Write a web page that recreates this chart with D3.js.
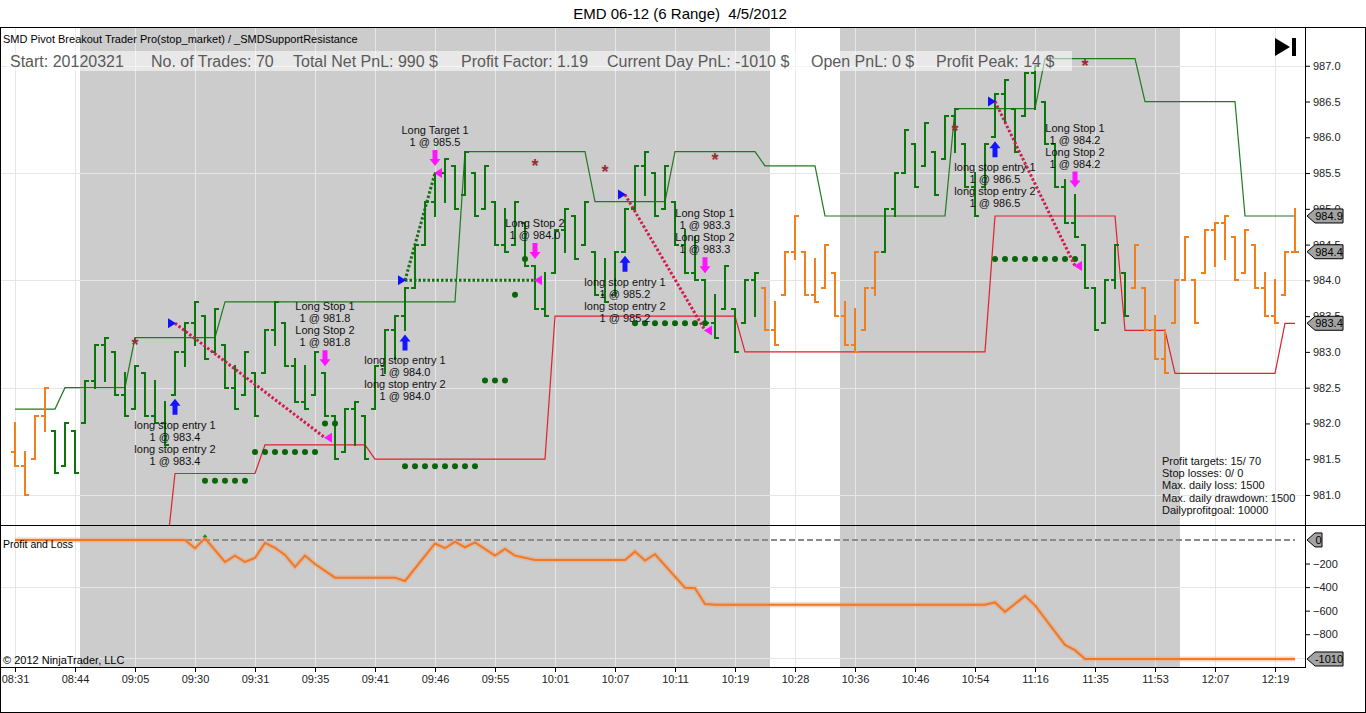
<!DOCTYPE html>
<html>
<head>
<meta charset="utf-8">
<script src="https://cdn.jsdelivr.net/npm/d3@7"></script>
<style>
  body { margin: 0; background: #fff; font-family: "Liberation Sans", Arial, sans-serif; }
  svg text { font-family: "Liberation Sans", Arial, sans-serif; }
</style>
</head>
<body>
<div id="wrapper"></div>
<script>
// ---- data ----
const times = ["08:31","08:44","09:05","09:30","09:31","09:35","09:41","09:46","09:55","10:01","10:07",
  "10:11","10:19","10:28","10:36","10:46","10:54","11:16","11:35","11:53","12:07","12:19"];

const highs = [982.0,981.6,982.1,982.5,981.9,982.0,981.9,982.6,983.1,983.2,
  983.0,982.7,982.8,982.7,982.6,982.3,983.0,983.4,983.7,983.5,
  983.6,983.1,982.8,983.0,982.7,983.3,983.7,983.4,982.9,982.8,
  983.0,982.7,982.1,982.2,982.3,982.1,982.8,983.3,983.5,983.9,
  984.5,985.1,985.5,985.7,985.6,985.8,985.5,985.6,985.1,985.0,
  985.1,984.8,984.2,984.1,984.7,985.0,984.9,985.1,984.4,984.3,
  984.4,985.0,985.6,985.8,985.5,985.6,985.1,984.7,984.6,984.0,
  983.8,984.2,983.6,984.0,984.1,983.9,983.7,984.4,984.9,984.4,
  984.3,984.5,984.1,983.7,983.6,983.9,984.4,985.0,985.5,986.1,
  985.9,986.2,985.8,986.3,986.4,985.9,985.5,985.9,986.6,986.8,
  986.4,986.9,987.0,986.5,985.9,985.4,985.2,984.5,983.9,984.0,
  984.5,984.1,984.5,983.9,983.5,983.3,984.0,984.6,984.0,984.7,
  984.8,984.9,984.6,984.7,984.5,984.1,984.0,984.4,985.0];

const lows = [981.4,981.0,981.5,981.9,981.3,981.4,981.3,982.0,982.5,982.6,
  982.4,982.1,982.2,982.1,982.0,981.7,982.4,982.8,983.1,982.9,
  983.0,982.5,982.2,982.4,982.1,982.7,983.1,982.8,982.3,982.2,
  982.4,982.1,981.5,981.6,981.7,981.5,982.2,982.7,982.9,983.3,
  983.9,984.5,984.9,985.1,985.0,985.2,984.9,985.0,984.5,984.4,
  984.5,984.2,983.6,983.5,984.1,984.4,984.3,984.5,983.8,983.7,
  983.8,984.4,985.0,985.2,984.9,985.0,984.5,984.1,984.0,983.4,
  983.2,983.6,983.0,983.4,983.5,983.3,983.1,983.8,984.3,983.8,
  983.7,983.9,983.5,983.1,983.0,983.3,983.8,984.4,984.9,985.5,
  985.3,985.6,985.2,985.7,985.8,985.3,984.9,985.3,986.0,986.2,
  985.8,986.3,986.4,985.9,985.3,984.8,984.6,983.9,983.3,983.4,
  983.9,983.5,983.9,983.3,982.9,982.7,983.4,984.0,983.4,984.1,
  984.2,984.3,984.0,984.1,983.9,983.5,983.4,983.8,984.4];

const opens = [981.6,981.4,981.5,982.1,981.9,981.4,981.9,982.0,982.6,983.1,
  983.0,982.4,982.2,982.7,982.1,982.0,982.4,983.0,983.4,983.5,
  983.0,983.1,982.5,982.4,982.7,982.7,983.3,983.4,982.8,982.3,
  982.4,982.7,982.1,981.6,982.2,982.1,982.2,982.8,983.3,983.5,
  983.9,984.5,985.1,985.5,985.6,985.2,985.5,985.0,985.1,984.5,
  984.5,984.8,984.2,983.6,984.1,984.7,984.9,984.5,984.4,983.8,
  983.8,984.4,985.0,985.6,985.5,985.0,985.1,984.5,984.1,984.0,
  983.4,983.6,983.6,983.4,984.0,983.9,983.3,983.8,984.4,984.4,
  983.8,983.9,984.1,983.5,983.1,983.3,983.9,984.4,985.0,985.5,
  985.9,985.6,985.8,985.7,986.3,985.9,985.3,985.3,986.0,986.6,
  986.4,986.3,986.9,986.5,985.9,985.3,984.8,984.5,983.9,983.4,
  984.0,984.1,983.9,983.9,983.3,982.9,983.4,984.0,984.0,984.1,
  984.7,984.8,984.6,984.1,984.5,983.9,983.5,983.8,984.4];

const closes = [981.4,981.0,982.1,982.5,981.3,982.0,981.3,982.6,983.1,983.2,
  982.4,982.1,982.8,982.1,982.0,981.7,983.0,983.4,983.7,982.9,
  983.6,982.5,982.2,983.0,982.1,983.3,983.7,982.8,982.3,982.2,
  983.0,982.1,981.5,982.2,982.3,981.5,982.8,983.3,983.5,983.9,
  984.5,985.1,985.5,985.7,985.0,985.8,984.9,985.6,984.5,984.4,
  985.1,984.2,983.6,983.5,984.7,985.0,984.3,985.1,983.8,983.7,
  984.4,985.0,985.6,985.8,984.9,985.6,984.5,984.1,984.0,983.4,
  983.2,984.2,983.0,984.0,984.1,983.3,983.1,984.4,984.9,983.8,
  983.7,984.5,983.5,983.1,983.0,983.9,984.4,985.0,985.5,986.1,
  985.3,986.2,985.2,986.3,986.4,985.3,984.9,985.9,986.6,986.8,
  985.8,986.9,987.0,985.9,985.3,984.8,984.6,983.9,983.3,984.0,
  984.5,983.5,984.5,983.3,982.9,982.7,984.0,984.6,983.4,984.7,
  984.8,984.9,984.0,984.7,983.9,983.5,983.4,984.4,984.4];

// bars drawn in the strategy colour (index ranges, inclusive)
const activeFrom = [4, 87];
const activeTo = [74, 111];

// shaded session blocks (in bar-index units)
const shadeFrom = [6.5, 82.5];
const shadeTo = [75.5, 116.5];

// resistance (green) and support (red) step levels: first bar index of each level
const resStart = [0, 5, 12, 21, 45, 58, 66, 75, 81, 94, 103, 113, 123];
const resLevel = [982.2, 982.5, 983.2, 983.7, 985.8, 985.1, 985.8, 985.6, 984.9, 986.4, 987.1, 986.5, 984.9];
const supStart = [15, 16, 25, 36, 54, 73, 98, 111, 116, 127];
const supLevel = [980.0, 981.3, 981.7, 981.5, 983.5, 983.0, 984.9, 983.3, 982.7, 983.4];

// stop dots
const dotIdx = [19,20,21,22,23, 24,25,26,27,28,29,30, 31,32, 39,40,41,42,43,44,45,46, 47,48,49, 50, 51,
  62,63,64,65,66,67,68,69, 98,99,100,101,102,103,104,105,106];
const dotPrice = [981.2,981.2,981.2,981.2,981.2, 981.6,981.6,981.6,981.6,981.6,981.6,981.6, 982.0,982.0,
  981.4,981.4,981.4,981.4,981.4,981.4,981.4,981.4, 982.6,982.6,982.6, 983.8, 984.3,
  983.4,983.4,983.4,983.4,983.4,983.4,983.4,983.4, 984.3,984.3,984.3,984.3,984.3,984.3,984.3,984.3,984.3];

// pivot asterisks
const starIdx = [12, 52, 59, 70, 94, 107];
const starPrice = [983.14, 985.64, 985.55, 985.73, 986.13, 987.04];

// trades
const entryIdx = [16, 39, 61, 98];
const entryPrice = [983.4, 984.0, 985.2, 986.5];
const entryText = [
  ["long stop entry 1", "1 @ 983.4", "long stop entry 2", "1 @ 983.4"],
  ["long stop entry 1", "1 @ 984.0", "long stop entry 2", "1 @ 984.0"],
  ["long stop entry 1", "1 @ 985.2", "long stop entry 2", "1 @ 985.2"],
  ["long stop entry 1", "1 @ 986.5", "long stop entry 2", "1 @ 986.5"]];
const exitIdx = [31, 42, 52, 69, 106];
const exitPrice = [981.8, 985.5, 984.0, 983.3, 984.2];
const exitEntry = [0, 1, 1, 2, 3];
const exitText = [
  ["Long Stop 1", "1 @ 981.8", "Long Stop 2", "1 @ 981.8"],
  ["Long Target 1", "1 @ 985.5"],
  ["Long Stop 2", "1 @ 984.0"],
  ["Long Stop 1", "1 @ 983.3", "Long Stop 2", "1 @ 983.3"],
  ["Long Stop 1", "1 @ 984.2", "Long Stop 2", "1 @ 984.2"]];

// profit and loss curve (bar index, $)
const pnlIdx = [0,17,18,19,21,22,23,24,25,26,27,28,29,30,32,38,39,42,43,44,45,46,48,49,50,52,
  61,62,63,64,67,68,69,70,97,98,99,101,102,105,106,107,128];
const pnlVal = [0,0,-70,14,-187,-133,-187,-153,-25,-68,-127,-229,-133,-204,-320,-320,-348,-30,-70,-14,
  -62,-20,-133,-76,-133,-170,-170,-99,-175,-121,-405,-410,-543,-550,-550,-530,-610,-475,-555,-890,-935,-1010,-1010];

const statsText = ["Start: 20120321", "No. of Trades: 70", "Total Net PnL: 990 $", "Profit Factor: 1.19",
  "Current Day PnL: -1010 $", "Open PnL: 0 $", "Profit Peak: 14 $"];
const statsX = [10, 151, 293, 461, 607, 811, 936];
const infoLines = ["Profit targets: 15/ 70", "Stop losses: 0/ 0", "Max. daily loss: 1500",
  "Max. daily drawdown: 1500", "Dailyprofitgoal: 10000"];

function drawChart() {
  const dimensions = {
    width: 1366,
    height: 713,
    frameTop: 27,
    priceTop: 28,
    priceBottom: 525,
    pnlBottom: 667,
    plotRight: 1305
  };
  const barGreen = "#0b760b";
  const barOrange = "#f27f1b";

  const svg = d3.select("#wrapper").append("svg")
    .attr("width", dimensions.width)
    .attr("height", dimensions.height);

  const xScale = d3.scaleLinear().domain([0, 128]).range([15, 1295]);
  const yScale = d3.scaleLinear().domain([980.58, 987.43]).range([525, 35]);
  const pnlScale = d3.scaleLinear().domain([-1078, 110]).range([667, 527]);

  const defs = svg.append("defs");
  defs.append("clipPath").attr("id", "clipPrice").append("rect")
    .attr("x", 0).attr("y", dimensions.priceTop).attr("width", dimensions.plotRight)
    .attr("height", dimensions.priceBottom - dimensions.priceTop);
  defs.append("clipPath").attr("id", "clipPnl").append("rect")
    .attr("x", 0).attr("y", dimensions.priceBottom).attr("width", dimensions.plotRight)
    .attr("height", dimensions.pnlBottom - dimensions.priceBottom);

  // title
  svg.append("text").attr("x", 680).attr("y", 19).attr("text-anchor", "middle")
    .style("font-size", "15px").style("white-space", "pre").attr("fill", "#000")
    .text("EMD 06-12 (6 Range)  4/5/2012");

  // shaded sessions
  svg.append("g").selectAll("rect").data(shadeFrom).join("rect")
    .attr("x", d => xScale(d))
    .attr("width", (d, i) => xScale(shadeTo[i]) - xScale(d))
    .attr("y", dimensions.priceTop)
    .attr("height", dimensions.pnlBottom - dimensions.priceTop)
    .attr("fill", "#cccccc");

  // grid
  const grid = svg.append("g").attr("stroke", "#e6e6e6").attr("stroke-width", 1).attr("shape-rendering", "crispEdges");
  grid.selectAll("line.v").data(d3.range(0, 128, 6)).join("line").attr("class", "v")
    .attr("x1", d => Math.round(xScale(d)) + 0.5).attr("x2", d => Math.round(xScale(d)) + 0.5)
    .attr("y1", dimensions.priceTop).attr("y2", dimensions.pnlBottom);
  grid.selectAll("line.h").data([981, 982.5, 984, 985.5, 987]).join("line").attr("class", "h")
    .attr("x1", 0).attr("x2", dimensions.plotRight)
    .attr("y1", d => Math.round(yScale(d)) + 0.5).attr("y2", d => Math.round(yScale(d)) + 0.5);
  grid.selectAll("line.p").data([-400, -1000]).join("line").attr("class", "p")
    .attr("x1", 0).attr("x2", dimensions.plotRight)
    .attr("y1", d => Math.round(pnlScale(d)) + 0.5).attr("y2", d => Math.round(pnlScale(d)) + 0.5);

  // ---- price panel ----
  const price = svg.append("g").attr("clip-path", "url(#clipPrice)");

  const stepPoints = (starts, levels, last) => {
    const pts = [];
    starts.forEach((s, k) => {
      const e = k < starts.length - 1 ? starts[k + 1] - 1 : last;
      pts.push([s, levels[k]]);
      if (e > s) pts.push([e, levels[k]]);
    });
    return pts;
  };
  const levelLine = d3.line().x(d => xScale(d[0])).y(d => yScale(d[1]));
  price.append("path").attr("d", levelLine(stepPoints(resStart, resLevel, 128)))
    .attr("fill", "none").attr("stroke", "#1f7a1f").attr("stroke-width", 1.2);
  price.append("path").attr("d", levelLine(stepPoints(supStart, supLevel, 128)))
    .attr("fill", "none").attr("stroke", "#e0202a").attr("stroke-width", 1.2);

  // OHLC bars
  const isActive = i => activeFrom.some((a, k) => i >= a && i <= activeTo[k]);
  const bars = price.append("g").attr("stroke-width", 2).attr("shape-rendering", "crispEdges")
    .selectAll("g").data(d3.range(highs.length)).join("g")
    .attr("stroke", i => isActive(i) ? barGreen : barOrange);
  bars.append("line")
    .attr("x1", i => Math.round(xScale(i))).attr("x2", i => Math.round(xScale(i)))
    .attr("y1", i => yScale(highs[i]) - 1).attr("y2", i => yScale(lows[i]) + 1);
  bars.append("line")
    .attr("x1", i => Math.round(xScale(i)) - 4).attr("x2", i => Math.round(xScale(i)))
    .attr("y1", i => yScale(opens[i])).attr("y2", i => yScale(opens[i]));
  bars.append("line")
    .attr("x1", i => Math.round(xScale(i))).attr("x2", i => Math.round(xScale(i)) + 4)
    .attr("y1", i => yScale(closes[i])).attr("y2", i => yScale(closes[i]));

  // stop dots
  price.append("g").selectAll("circle").data(dotIdx).join("circle")
    .attr("cx", d => xScale(d)).attr("cy", (d, i) => yScale(dotPrice[i]))
    .attr("r", 3).attr("fill", "#0a650a");

  // asterisks
  price.append("g").selectAll("text").data(starIdx).join("text")
    .attr("x", d => xScale(d)).attr("y", (d, i) => yScale(starPrice[i]) + 9)
    .attr("text-anchor", "middle").attr("fill", "#9a2e2e").style("font-size", "18px")
    .style("font-weight", "bold")
    .text("*");

  // trade connection lines
  price.append("g").selectAll("line").data(exitIdx).join("line")
    .attr("x1", (d, k) => xScale(entryIdx[exitEntry[k]]))
    .attr("y1", (d, k) => yScale(entryPrice[exitEntry[k]]))
    .attr("x2", d => xScale(d))
    .attr("y2", (d, k) => yScale(exitPrice[k]))
    .attr("stroke", (d, k) => exitPrice[k] >= entryPrice[exitEntry[k]] ? "#137013" : "#cc1f4f")
    .attr("stroke-width", 3).attr("stroke-dasharray", "2.5,2");

  // entry markers
  const entries = price.append("g").selectAll("g").data(entryIdx).join("g");
  entries.append("path")
    .attr("d", (d, k) => {
      const bx = xScale(d), py = yScale(entryPrice[k]);
      return `M${bx + 1},${py} L${bx - 7},${py - 5} L${bx - 7},${py + 5} Z`;
    }).attr("fill", "#1010ff");
  entries.append("path")
    .attr("d", d => {
      const bx = xScale(d), cy = yScale(lows[d]) + 12;
      return `M${bx},${cy - 8} L${bx + 5.5},${cy - 1} L${bx + 2.5},${cy - 1} L${bx + 2.5},${cy + 8} ` +
        `L${bx - 2.5},${cy + 8} L${bx - 2.5},${cy - 1} L${bx - 5.5},${cy - 1} Z`;
    }).attr("fill", "#1414ff");
  entries.each(function (d, k) {
    const g = d3.select(this);
    entryText[k].forEach((t, j) => {
      g.append("text").attr("x", xScale(d)).attr("y", yScale(lows[d]) + 34 + j * 12)
        .attr("text-anchor", "middle").style("font-size", "11px").attr("fill", "#111").text(t);
    });
  });

  // exit markers
  const exits = price.append("g").selectAll("g").data(exitIdx).join("g");
  exits.append("path")
    .attr("d", (d, k) => {
      const bx = xScale(d), py = yScale(exitPrice[k]);
      return `M${bx - 1},${py} L${bx + 7},${py - 5} L${bx + 7},${py + 5} Z`;
    }).attr("fill", "#ff14ff");
  exits.append("path")
    .attr("d", d => {
      const bx = xScale(d), cy = yScale(highs[d]) - 15;
      return `M${bx},${cy + 8} L${bx + 5.5},${cy + 1} L${bx + 2.5},${cy + 1} L${bx + 2.5},${cy - 8} ` +
        `L${bx - 2.5},${cy - 8} L${bx - 2.5},${cy + 1} L${bx - 5.5},${cy + 1} Z`;
    }).attr("fill", "#ff14ff");
  exits.each(function (d, k) {
    const g = d3.select(this);
    const lines = exitText[k];
    lines.forEach((t, j) => {
      g.append("text").attr("x", xScale(d))
        .attr("y", yScale(highs[d]) - 27 - (lines.length - 1 - j) * 12)
        .attr("text-anchor", "middle").style("font-size", "11px").attr("fill", "#111").text(t);
    });
  });

  // header texts
  svg.append("text").attr("x", 3).attr("y", 43).style("font-size", "11px").attr("fill", "#000")
    .text("SMD Pivot Breakout Trader Pro(stop_market) / _SMDSupportResistance");
  svg.append("rect").attr("x", 5).attr("y", 51).attr("width", 1067).attr("height", 20)
    .attr("fill", "#ffffff").attr("fill-opacity", 0.55);
  svg.append("g").selectAll("text").data(statsText).join("text")
    .attr("x", (d, i) => statsX[i]).attr("y", 67)
    .style("font-size", "16px").attr("fill", "#5a5a5a").text(d => d);

  // info block
  svg.append("g").selectAll("text").data(infoLines).join("text")
    .attr("x", 1162).attr("y", (d, i) => 465 + i * 12.2)
    .style("font-size", "11px").attr("fill", "#111").text(d => d);

  // play icon
  svg.append("path").attr("d", "M1275,38 L1290,47 L1275,56 Z").attr("fill", "#000");
  svg.append("rect").attr("x", 1292).attr("y", 38).attr("width", 4).attr("height", 18).attr("fill", "#000");

  // ---- P&L panel ----
  const pnl = svg.append("g").attr("clip-path", "url(#clipPnl)");
  pnl.append("line").attr("x1", xScale(0)).attr("x2", xScale(128))
    .attr("y1", pnlScale(0)).attr("y2", pnlScale(0))
    .attr("stroke", "#8a8a8a").attr("stroke-width", 2).attr("stroke-dasharray", "6,3");
  const pnlLine = d3.line().x(d => xScale(d)).y((d, i) => pnlScale(pnlVal[i]));
  pnl.append("path").attr("d", pnlLine(pnlIdx)).attr("fill", "none")
    .attr("stroke", "#f4a070").attr("stroke-opacity", 0.45).attr("stroke-width", 5);
  pnl.append("path").attr("d", pnlLine(pnlIdx)).attr("fill", "none")
    .attr("stroke", "#ee7a28").attr("stroke-width", 2);
  const peakK = pnlVal.indexOf(d3.max(pnlVal));
  pnl.append("path")
    .attr("d", `M${xScale(pnlIdx[peakK])},${pnlScale(pnlVal[peakK]) - 4} l2.5,3 l-5,0 Z`)
    .attr("fill", "#0a8a0a");
  svg.append("text").attr("x", 3).attr("y", 548).style("font-size", "10.5px").attr("fill", "#000")
    .text("Profit and Loss");
  svg.append("text").attr("x", 3).attr("y", 664).style("font-size", "11px").attr("fill", "#000")
    .text("\u00a9 2012 NinjaTrader, LLC");

  // ---- axes ----
  const priceAxis = svg.append("g").attr("transform", `translate(${dimensions.plotRight},0)`)
    .call(d3.axisRight(yScale).tickValues(d3.range(981, 987.01, 0.5)).tickFormat(d3.format(".1f")).tickSize(5));
  const pnlAxis = svg.append("g").attr("transform", `translate(${dimensions.plotRight},0)`)
    .call(d3.axisRight(pnlScale).tickValues([-200, -400, -600, -800]).tickFormat(d3.format("d")).tickSize(5));
  const timeAxis = svg.append("g").attr("transform", `translate(0,${dimensions.pnlBottom})`)
    .call(d3.axisBottom(xScale).tickValues(d3.range(0, 128, 6)).tickFormat((d, i) => times[i]).tickSize(5));
  [priceAxis, pnlAxis, timeAxis].forEach(a => {
    a.select(".domain").remove();
    a.selectAll("text").style("font-size", "11px").attr("fill", "#222")
      .style("font-family", "'Liberation Sans', Arial, sans-serif");
    a.selectAll("line").attr("stroke", "#000");
  });

  // frame lines
  const frame = svg.append("g").attr("stroke", "#000").attr("stroke-width", 1).attr("shape-rendering", "crispEdges");
  frame.append("rect").attr("x", 0.5).attr("y", dimensions.frameTop + 0.5)
    .attr("width", dimensions.width - 1.5).attr("height", dimensions.height - dimensions.frameTop - 1.5)
    .attr("fill", "none");
  frame.append("line").attr("x1", 0).attr("x2", dimensions.width).attr("y1", 525.5).attr("y2", 525.5);
  frame.append("line").attr("x1", 0).attr("x2", dimensions.plotRight).attr("y1", 667.5).attr("y2", 667.5);
  frame.append("line").attr("x1", dimensions.plotRight + 0.5).attr("x2", dimensions.plotRight + 0.5)
    .attr("y1", dimensions.frameTop).attr("y2", 667.5);

  // value boxes
  const valueBox = (yPos, label, w) => {
    const g = svg.append("g");
    const x0 = dimensions.plotRight + 2;
    g.append("path")
      .attr("d", `M${x0},${yPos} L${x0 + 8},${yPos - 7} L${x0 + 8 + w},${yPos - 7} L${x0 + 8 + w},${yPos + 7} L${x0 + 8},${yPos + 7} Z`)
      .attr("fill", "#a3a3a3").attr("stroke", "#000").attr("stroke-width", 1);
    g.append("text").attr("x", x0 + 8 + w / 2).attr("y", yPos + 4).attr("text-anchor", "middle")
      .style("font-size", "11px").attr("fill", "#000").text(label);
  };
  valueBox(yScale(resLevel[resLevel.length - 1]), d3.format(".1f")(resLevel[resLevel.length - 1]), 28);
  valueBox(yScale(closes[closes.length - 1]), d3.format(".1f")(closes[closes.length - 1]), 28);
  valueBox(yScale(supLevel[supLevel.length - 1]), d3.format(".1f")(supLevel[supLevel.length - 1]), 28);
  valueBox(pnlScale(0), "0", 7);
  valueBox(pnlScale(pnlVal[pnlVal.length - 1]), String(pnlVal[pnlVal.length - 1]), 28);
}

drawChart();
</script>
</body>
</html>
